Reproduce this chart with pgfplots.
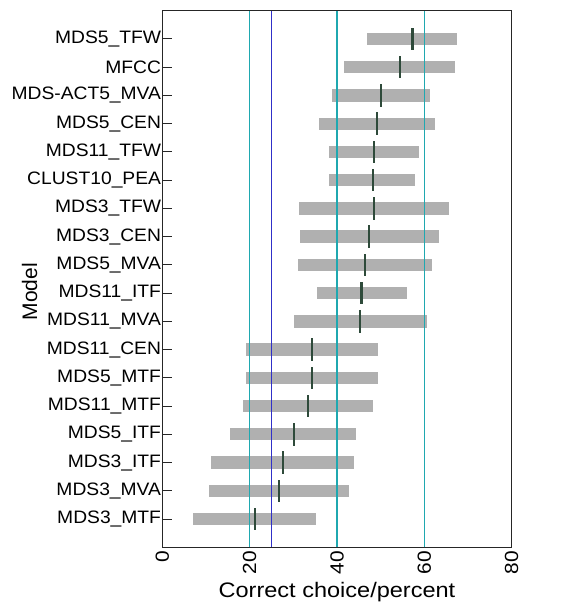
\documentclass[border=0pt]{standalone}
\usepackage{fontspec}
\setmainfont{Liberation Sans}
\usepackage{pgfplots}
\pgfplotsset{compat=1.18}
\usepackage{pgfplotstable}

\definecolor{barg}{HTML}{B0B0B0}
\definecolor{medc}{HTML}{2E4A3A}
\definecolor{tealln}{HTML}{1FA8B0}
\definecolor{bluln}{HTML}{3030C8}

% y lo hi med  (bottom row first)
\pgfplotstableread{
y lo hi med
1 7.1 35.3 21.2
2 10.8 42.7 26.7
3 11.2 44.0 27.6
4 15.6 44.4 30.1
5 18.5 48.3 33.4
6 19.1 49.4 34.3
7 19.1 49.4 34.3
8 30.1 60.5 45.3
9 35.5 56.0 45.6
10 31.0 61.8 46.4
11 31.5 63.4 47.4
12 31.4 65.7 48.5
13 38.2 57.9 48.2
14 38.2 58.7 48.5
15 35.8 62.4 49.2
16 38.9 61.3 50.1
17 41.5 67.1 54.4
18 46.9 67.5 57.3
}\modeldata

\begin{document}
\begin{tikzpicture}
\useasboundingbox (-162.3pt,-54.7pt) rectangle (417.7pt,547.3pt);
\clip (-162.3pt,-54.7pt) rectangle (417.7pt,547.3pt);
\begin{axis}[
  at={(0pt,0pt)}, anchor=south west,
  scale only axis,
  width=349.4pt, height=536.6pt,
  xmin=0, xmax=80, ymin=0, ymax=19,
  axis on top,
  axis line style={line width=0.9pt, color=black!85},
  xtick={0,20,40,60,80},
  xtick style={draw=none},
  extra x ticks={20,40,60},
  extra x tick labels={},
  extra x tick style={grid=major, major grid style={color=tealln, line width=1.6pt}, tick style={draw=none}},
  minor xtick={25},
  xminorgrids=true,
  minor grid style={color=bluln, line width=1.6pt},
  minor x tick style={draw=none},
  xticklabel style={rotate=90, anchor=east, font=\fontsize{19}{19}\selectfont, xscale=1.1},
  /pgf/number format/assume math mode=true,
  ytick={1,...,18},
  yticklabels={MDS3\_MTF,MDS3\_MVA,MDS3\_ITF,MDS5\_ITF,MDS11\_MTF,MDS5\_MTF,MDS11\_CEN,MDS11\_MVA,MDS11\_ITF,MDS5\_MVA,MDS3\_CEN,MDS3\_TFW,CLUST10\_PEA,MDS11\_TFW,MDS5\_CEN,MDS-ACT5\_MVA,MFCC,MDS5\_TFW},
  ytick pos=left,
  ytick align=inside,
  major tick length=10pt,
  ytick style={line width=0.9pt, color=black!85},
  yticklabel style={font=\fontsize{18}{18}\selectfont, xscale=1.07, inner sep=1pt},
  xlabel={Correct choice/percent},
  xlabel style={font=\fontsize{21}{21}\selectfont, xscale=1.12, anchor=base, at={(axis description cs:0.5,-0.0936)}},
  ylabel={Model},
  ylabel style={font=\fontsize{21}{21}\selectfont, anchor=base, at={(axis description cs:-0.3586,0.476)}},
]
% interval bars
\addplot[draw=none, no markers,
  error bars/.cd, x dir=both, x explicit, error mark=none,
  error bar style={line width=12.3pt, color=barg}]
  table[x=med, y=y,
    x error plus expr=\thisrow{hi}-\thisrow{med},
    x error minus expr=\thisrow{med}-\thisrow{lo}] {\modeldata};

% medians
\addplot[draw=none, no markers,
  error bars/.cd, y dir=both, y fixed=0.40, error mark=none,
  error bar style={line width=2.2pt, color=medc}]
  table[x=med, y=y] {\modeldata};
\end{axis}
\end{tikzpicture}
\end{document}
